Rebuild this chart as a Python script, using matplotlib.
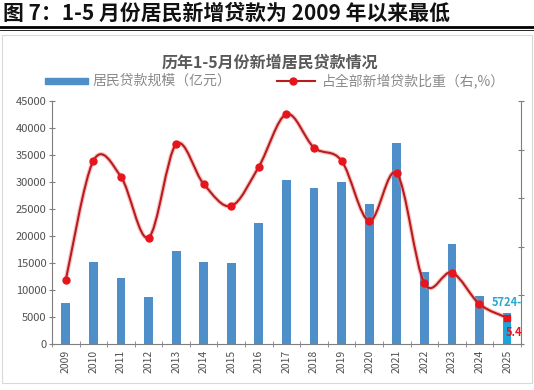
import matplotlib
matplotlib.use('Agg')
import matplotlib.pyplot as plt
import numpy as np
from matplotlib.path import Path
from matplotlib.patches import PathPatch, Rectangle
from matplotlib.lines import Line2D

plt.rcParams['font.family'] = ['Noto Sans CJK SC', 'DejaVu Sans']

years = ['2009', '2010', '2011', '2012', '2013', '2014', '2015', '2016', '2017',
         '2018', '2019', '2020', '2021', '2022', '2023', '2024', '2025']
loans = [7540, 15130, 12280, 8640, 17280, 15240, 14940, 22350, 30370,
         28950, 30000, 25870, 37160, 13390, 18460, 8890, 5724]
share = [13.2, 37.7, 34.4, 21.9, 41.1, 32.9, 28.4, 36.5, 47.3,
         40.4, 37.7, 25.3, 35.1, 12.5, 14.7, 8.2, 5.4]

BAR = '#4e8fc9'
BAR_LAST = '#1aa6dc'
LINE = '#b81c1c'
MARK = '#e8141c'
GREY = '#7f7f7f'


def smooth_path(xs, ys):
    """Excel-like smoothed line as cubic bezier segments"""
    pts = np.column_stack([xs, ys]).astype(float)
    verts = [pts[0]]
    codes = [Path.MOVETO]
    n = len(pts)
    for i in range(n - 1):
        p0 = pts[i - 1] if i > 0 else pts[i]
        p1 = pts[i]
        p2 = pts[i + 1]
        p3 = pts[i + 2] if i + 2 < n else pts[i + 1]
        c1 = p1 + (p2 - p0) / 6.0
        c2 = p2 - (p3 - p1) / 6.0
        verts += [c1, c2, p2]
        codes += [Path.CURVE4] * 3
    return Path(verts, codes)


fig = plt.figure(figsize=(5.34, 3.9), dpi=100)

# report header
fig.text(0.005, 0.966, '图 7：1-5 月份居民新增贷款为 2009 年以来最低',
         fontsize=15, fontweight='bold', ha='left', va='center', color='#111111')
fig.add_artist(Line2D([0, 1], [0.931, 0.931], color='black', lw=2.0))
fig.add_artist(Line2D([0, 1], [0.923, 0.923], color='black', lw=0.6))
fig.add_artist(Rectangle((0.004, 0.018), 0.992, 0.891, transform=fig.transFigure,
                         fill=False, edgecolor='#d9d9d9', lw=0.8))

fig.text(0.505, 0.84, '历年1-5月份新增居民贷款情况', fontsize=11.5, fontweight='bold',
         ha='center', va='center', color='#595959')

ax = fig.add_axes([0.0974, 0.118, 0.878, 0.623])
x = np.arange(len(years))
colors = [BAR] * (len(years) - 1) + [BAR_LAST]
ax.bar(x, loans, width=0.32, color=colors, zorder=2)
ax.set_xlim(-0.5, len(years) - 0.5)
ax.set_ylim(0, 45000)
ax.set_yticks(np.arange(0, 45001, 5000))
ax.set_xticks(x)
ax.set_xticklabels(years, rotation=90)
ax.set_xticks(np.arange(-0.5, len(years), 1), minor=True)
ax.tick_params(axis='x', which='major', length=0, pad=4, labelsize=7.5, labelcolor='#505050')
ax.tick_params(axis='x', which='minor', length=4, direction='inout', color=GREY)
ax.tick_params(axis='y', length=4, direction='inout', color=GREY, labelsize=8,
               labelcolor='#505050', pad=2)
for s in ['top', 'right']:
    ax.spines[s].set_visible(False)
ax.spines['left'].set_color(GREY)
ax.spines['bottom'].set_color(GREY)

ax2 = ax.twinx()
ax2.set_ylim(0, 50)
ax2.set_yticks(np.arange(0, 51, 10))
ax2.set_yticklabels([])
ax2.tick_params(axis='y', length=4, direction='inout', color=GREY)
for s in ['top', 'left', 'bottom']:
    ax2.spines[s].set_visible(False)
ax2.spines['right'].set_color(GREY)

ax2.add_patch(PathPatch(smooth_path(x, share), fill=False, edgecolor='#f08080',
                        lw=3.2, alpha=0.45, zorder=3))
ax2.add_patch(PathPatch(smooth_path(x, share), fill=False, edgecolor=LINE,
                        lw=1.5, zorder=4))
ax2.plot(x[:-1], share[:-1], 'o', color=MARK, ms=5, zorder=5)
ax2.plot(x[-1], share[-1], 's', color=MARK, ms=5, zorder=5)

ax.text(x[-1] + 0.55, loans[-1] + 2000, f'{loans[-1]}-', color='#2aa8d0',
        fontsize=8, ha='right', va='center', fontweight='bold')
ax2.text(x[-1] + 0.55, share[-1] - 3.0, f'{share[-1]}', color='#e8141c',
         fontsize=8, ha='right', va='center', fontweight='bold')

# legend
lx = 0.085
fig.add_artist(Rectangle((lx, 0.785), 0.08, 0.016, transform=fig.transFigure,
                         color=BAR))
fig.text(lx + 0.088, 0.793, '居民贷款规模（亿元）', fontsize=10, color='#8a8a8a',
         ha='left', va='center')
fig.add_artist(Line2D([0.518, 0.59], [0.793, 0.793], color=LINE, lw=1.5))
fig.add_artist(Line2D([0.549], [0.793], marker='o', color=MARK, ms=5))
fig.text(0.603, 0.793, '占全部新增贷款比重（右,%）', fontsize=10, color='#8a8a8a',
         ha='left', va='center')

fig.savefig('out.png', dpi=100)
